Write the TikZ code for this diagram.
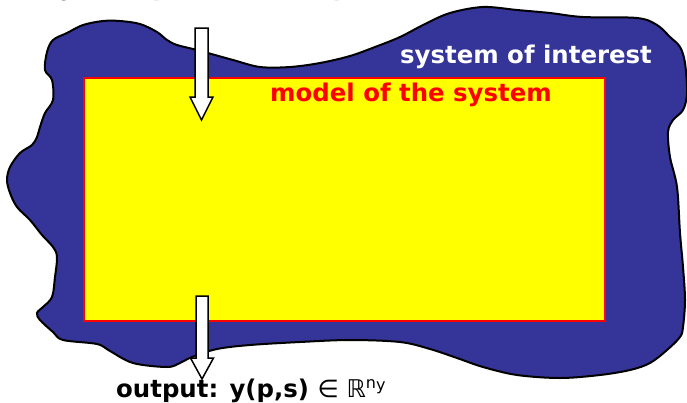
\documentclass[tikz,border=0pt]{standalone}
\usepackage{fontspec}
\setmainfont{DejaVu Sans}
\definecolor{blobblue}{RGB}{53,53,153}
\definecolor{modelyellow}{RGB}{255,255,0}
\definecolor{modelred}{RGB}{255,0,0}
\newcommand{\labelsize}{\fontsize{24.4}{29}\selectfont}
\newcommand{\supsize}{\fontsize{16}{16}\selectfont}
\tikzset{
  blob/.style={fill=blobblue, draw=black, line width=2},
  modelbox/.style={fill=modelyellow, draw=modelred, line width=2},
  blockarrow/.style={fill=white, draw=black, line width=1.5, line join=miter},
  lbl/.style={inner sep=0pt, font=\labelsize\bfseries},
}
\begin{document}
\begin{tikzpicture}[x=1pt,y=-1pt]
\useasboundingbox (0,0) rectangle (687,402);
\clip (0,0) rectangle (687,402);
% system of interest (blob)
\draw[blob] plot[smooth cycle, tension=0.55] coordinates {
(45,70) (47,52) (53,40) (67,33) (83,25) (103,21) (120,21) (140,24) (157,32) (167,40)
(177,45) (197,50) (233,60) (260,67) (290,67) (320,63) (350,56) (375,47) (400,37)
(425,24) (450,13) (483,7) (517,10) (550,13) (583,17) (637,18) (657,25) (670,37)
(680,47) (685,63) (687,93) (683,110) (673,120) (668,132) (670,157) (677,187) (680,233)
(683,267) (685,300) (683,327) (680,337) (667,350) (650,363) (630,370) (600,375)
(560,378) (517,375) (483,367) (457,358) (430,349) (400,342) (350,340) (300,342)
(250,345) (217,349) (192,357) (180,363) (167,367) (133,363) (110,351) (97,344)
(63,340) (53,332) (40,320) (37,313) (43,307) (52,297) (55,277) (57,257) (53,247)
(42,235) (30,220) (17,207) (10,193) (7,180) (10,167) (20,153) (32,145) (37,137)
(40,127) (45,113) (53,100) (52,80)};
% model of the system
\node[modelbox, minimum width=521, minimum height=243, anchor=north west, inner sep=0pt] (model) at (83,77) {};
\node[lbl, white, anchor=base] (soi) at (526,63) {system of interest};
\node[lbl, modelred, anchor=base] (mots) at (411,101) {model of the system};
% top text (mostly out of view)
\node[lbl, anchor=base west] (intext) at (45,-4.5) {system parameters: p {\mdseries∈ ℝ\raisebox{9pt}{\supsize n\raisebox{-2pt}{p}}}, s {\mdseries∈ ℝ\raisebox{9pt}{\supsize n\raisebox{-2pt}{s}}}};
% bottom text
\node[lbl, anchor=base west] (outtext) at (116,397) {output: y(p,s) {\mdseries∈ ℝ\raisebox{9pt}{\supsize n\raisebox{-2pt}{y}}}};
% block arrows
\coordinate (ta) at (201.5,28);
\coordinate (tb) at (201.5,120);
\draw[blockarrow] ([xshift=-6.5]ta) -- ([xshift=6.5]ta) -- ([xshift=6.5,yshift=23]tb) -- ([xshift=11.5,yshift=23]tb)
  -- (tb) -- ([xshift=-11.5,yshift=23]tb) -- ([xshift=-6.5,yshift=23]tb) -- cycle;
\coordinate (ba) at (202,296);
\coordinate (bb) at (202,379);
\draw[blockarrow] ([xshift=-6]ba) -- ([xshift=6]ba) -- ([xshift=6,yshift=21]bb) -- ([xshift=11.5,yshift=21]bb)
  -- (bb) -- ([xshift=-11.5,yshift=21]bb) -- ([xshift=-6,yshift=21]bb) -- cycle;
\end{tikzpicture}
\end{document}
